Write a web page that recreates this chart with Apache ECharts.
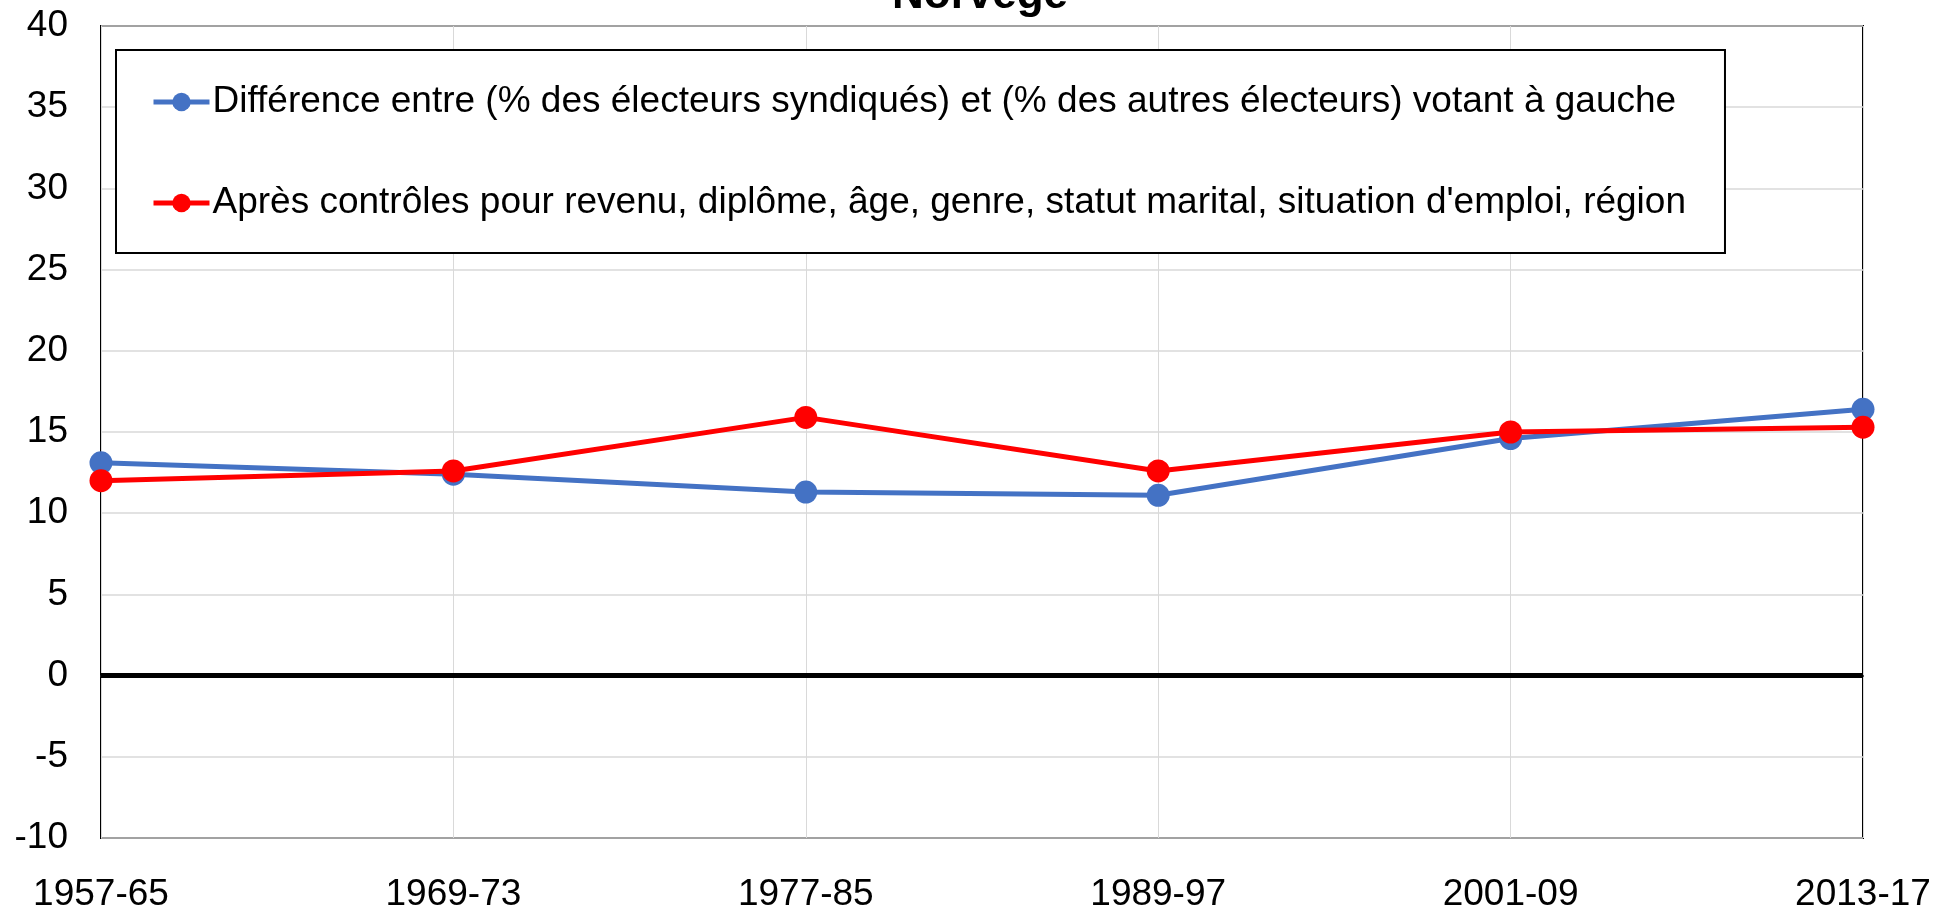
<!DOCTYPE html>
<html><head><meta charset="utf-8">
<script src="https://cdn.jsdelivr.net/npm/echarts@6/dist/echarts.min.js"></script>
<style>html,body{margin:0;padding:0;background:#fff}#c{width:1937px;height:913px}</style>
</head><body><div id="c"></div>
<script>
const categories = ['1957-65','1969-73','1977-85','1989-97','2001-09','2013-17'];
const seriesNames = [
  "Différence entre (% des électeurs syndiqués) et (% des autres électeurs) votant à gauche",
  "Après contrôles pour revenu, diplôme, âge, genre, statut marital, situation d'emploi, région"
];
const rawDiff = [13.1, 12.4, 11.3, 11.1, 14.6, 16.4];
const controlled = [12.0, 12.6, 15.9, 12.6, 15.0, 15.3];
const yTicks = {min: -10, max: 40, interval: 5};
const titleText = 'Norvège';

const FONT = '"Liberation Sans", Arial, sans-serif';
const BLUE = '#4472C4', RED = '#FF0000';
const chart = echarts.init(document.getElementById('c'));
chart.setOption({
  animation: false,
  title: {text: titleText, left: 887, top: -31,
    textStyle: {fontFamily: FONT, fontSize: 44, fontWeight: 'bold', color: '#000'}},
  grid: {left: 101, right: 74, top: 26, bottom: 72, show: true, borderColor: '#000', borderWidth: 2, containLabel: false},
  legend: {
    orient: 'vertical', left: 116, top: 50,
    padding: [32, 39, 30, 35], itemGap: 61,
    itemWidth: 56, itemHeight: 23,
    borderColor: '#000', borderWidth: 2, backgroundColor: '#fff',
    textStyle: {fontFamily: FONT, fontSize: 37, lineHeight: 40, color: '#000', padding: [0,0,0,-2]},
    data: [
      {name: seriesNames[0], lineStyle: {width: 5, color: BLUE}, itemStyle: {color: BLUE}},
      {name: seriesNames[1], lineStyle: {width: 5, color: RED}, itemStyle: {color: RED}}
    ]
  },
  xAxis: {
    type: 'category', data: categories, boundaryGap: false,
    axisLine: {show: true, lineStyle: {color: '#222', width: 2}},
    axisTick: {show: false},
    axisLabel: {fontFamily: FONT, fontSize: 37, color: '#000', margin: 38},
    splitLine: {show: true, lineStyle: {color: '#d9d9d9', width: 1}}
  },
  yAxis: {
    type: 'value', min: yTicks.min, max: yTicks.max, interval: yTicks.interval,
    axisLine: {show: false}, axisTick: {show: false},
    axisLabel: {fontFamily: FONT, fontSize: 37, color: '#000', margin: 33},
    splitLine: {show: true, lineStyle: {color: '#d9d9d9', width: 1.5}}
  },
  series: [
    {name: seriesNames[0], type: 'line', data: rawDiff, symbol: 'circle', symbolSize: 23,
      itemStyle: {color: BLUE}, lineStyle: {color: BLUE, width: 5}, z: 3,
      markLine: {silent: true, symbol: 'none', label: {show: false},
        lineStyle: {color: '#000', width: 5, type: 'solid'}, data: [{yAxis: 0}]}},
    {name: seriesNames[1], type: 'line', data: controlled, symbol: 'circle', symbolSize: 23,
      itemStyle: {color: RED}, lineStyle: {color: RED, width: 5}, z: 4}
  ]
});
</script></body></html>
